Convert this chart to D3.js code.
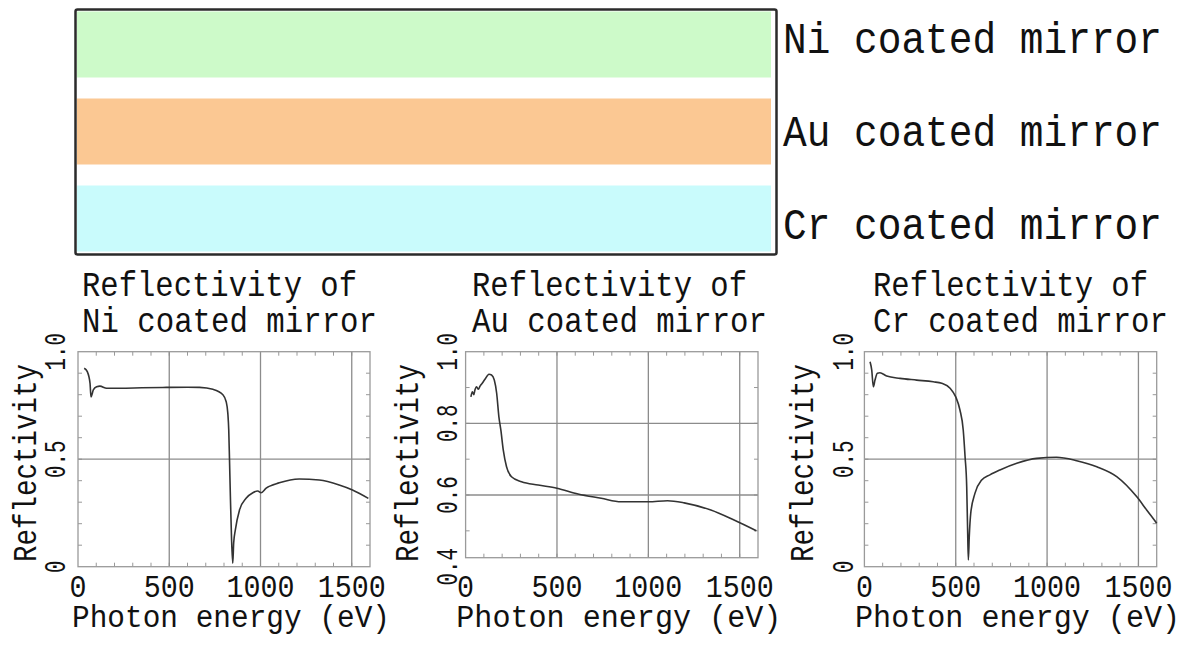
<!DOCTYPE html>
<html>
<head>
<meta charset="utf-8">
<script src="https://cdn.jsdelivr.net/npm/d3@7"></script>
<style>
  body { margin: 0; background: #fff; }
  text { font-family: "Liberation Mono", "DejaVu Sans Mono", monospace; fill: #111; }
</style>
</head>
<body>
<script>

// mirror coatings shown in the top diagram
var mirrors = ["Ni", "Au", "Cr"];
var bandColors = ["#cdfac9", "#fbc893", "#c9fbfc"];

// x axis (photon energy, eV)
var xTicks = [0, 500, 1000, 1500];
var xGrid = [500, 1000, 1500];

// Ni coated mirror
var energyNi = [34, 51, 66, 71, 84, 102, 120, 157, 229, 350, 484, 600, 666, 739, 794, 812, 821, 826, 830, 835, 841, 848, 853, 862, 885, 921, 958, 985, 1003, 1031, 1103, 1212, 1322, 1431, 1504, 1591];
var reflNi = [0.923, 0.907, 0.853, 0.79, 0.822, 0.837, 0.840, 0.83, 0.83, 0.832, 0.834, 0.835, 0.834, 0.825, 0.80, 0.767, 0.713, 0.636, 0.504, 0.326, 0.14, 0.016, 0.11, 0.17, 0.264, 0.318, 0.344, 0.352, 0.344, 0.365, 0.39, 0.408, 0.403, 0.38, 0.357, 0.318];
var yTicksNi = [0, 0.5, 1.0];
var yTickTextNi = ["0", "0.5", "1.0"];
var yGridNi = [0.5];

// Au coated mirror
var energyAu = [29, 37, 45, 51, 60, 70, 79, 91, 106, 128, 142, 157, 170, 182, 193, 206, 224, 251, 306, 397, 500, 615, 742, 851, 1000, 1105, 1196, 1342, 1469, 1591];
var reflAu = [0.874, 0.888, 0.880, 0.893, 0.902, 0.895, 0.904, 0.912, 0.923, 0.937, 0.935, 0.921, 0.884, 0.819, 0.781, 0.726, 0.679, 0.651, 0.637, 0.628, 0.619, 0.603, 0.591, 0.581, 0.581, 0.584, 0.578, 0.558, 0.530, 0.50];
var yTicksAu = [0.4, 0.6, 0.8, 1.0];
var yTickTextAu = ["0.4", "0.6", "0.8", "1.0"];
var yGridAu = [0.6, 0.8];

// Cr coated mirror
var energyCr = [31, 40, 49, 58, 71, 85, 122, 195, 286, 377, 423, 469, 500, 523, 541, 551, 560, 565, 569, 574, 582, 605, 642, 687, 742, 834, 943, 1052, 1162, 1272, 1381, 1490, 1545, 1600];
var reflCr = [0.953, 0.915, 0.837, 0.868, 0.9, 0.902, 0.887, 0.876, 0.868, 0.86, 0.853, 0.83, 0.79, 0.729, 0.636, 0.512, 0.372, 0.171, 0.031, 0.14, 0.248, 0.341, 0.403, 0.427, 0.45, 0.481, 0.504, 0.509, 0.493, 0.465, 0.419, 0.326, 0.264, 0.202];
var yTicksCr = [0, 0.5, 1.0];
var yTickTextCr = ["0", "0.5", "1.0"];
var yGridCr = [0.5];

var window_w = 1196;
var window_h = 646;

var svg = d3.select("body").append("svg")
    .attr("width", window_w)
    .attr("height", window_h);

// ---- top diagram: three coated stripes in a frame ----
var bandY = d3.scaleBand().domain(mirrors).range([11.5, 251.5]).paddingInner(0.2414).paddingOuter(0);
var labelY = d3.scalePoint().domain(mirrors).range([53, 239]);

svg.selectAll("rect.band")
    .data(mirrors)
    .enter().append("rect")
    .attr("class", "band")
    .attr("x", 77)
    .attr("width", 694)
    .attr("y", function (d) { return bandY(d); })
    .attr("height", bandY.bandwidth())
    .attr("fill", function (d, i) { return bandColors[i]; });

svg.append("rect")
    .attr("x", 75.5).attr("y", 9.5)
    .attr("width", 701).attr("height", 245)
    .attr("rx", 2)
    .attr("fill", "none")
    .attr("stroke", "#2b2b2b")
    .attr("stroke-width", 2.5);

svg.selectAll("text.mirror")
    .data(mirrors)
    .enter().append("text")
    .attr("class", "mirror")
    .attr("x", 783)
    .attr("y", function (d) { return labelY(d); })
    .attr("font-size", 45)
    .attr("textLength", 379)
    .attr("lengthAdjust", "spacingAndGlyphs")
    .text(function (d) { return d + " coated mirror"; });

// ---- reflectivity panels ----
var panels = [
    {name: "Ni", energy: energyNi, refl: reflNi, xRange: [78, 370], yRange: [566.7, 351.7], yDomain: [0, 1],
     yTicks: yTicksNi, yTickText: yTickTextNi, yGrid: yGridNi, titleX: 82, yLabelX: 36, yTickX: 65, xLabelW: 318},
    {name: "Au", energy: energyAu, refl: reflAu, xRange: [465.6, 758], yRange: [557.7, 351.7], yDomain: [0.425, 1],
     yTicks: yTicksAu, yTickText: yTickTextAu, yGrid: yGridAu, titleX: 472, yLabelX: 418, yTickX: 457, xLabelW: 325},
    {name: "Cr", energy: energyCr, refl: reflCr, xRange: [864.4, 1156.7], yRange: [566.7, 351.7], yDomain: [0, 1],
     yTicks: yTicksCr, yTickText: yTickTextCr, yGrid: yGridCr, titleX: 873, yLabelX: 813, yTickX: 853, xLabelW: 325}
];

panels.forEach(function (p) {
    var xScale = d3.scaleLinear().domain([0, 1600]).range(p.xRange);
    var yScale = d3.scaleLinear().domain(p.yDomain).range(p.yRange);

    var x0 = p.xRange[0], x1 = p.xRange[1];
    var yb = p.yRange[0], yt = p.yRange[1];

    var g = svg.append("g").attr("class", "panel " + p.name);

    // minor ticks, inward, on all four sides
    var minorX = xScale.ticks(16).filter(function (d) { return d > 0 && xScale(d) < x1 - 1; });
    var minorY = yScale.ticks(8).filter(function (d) { return yScale(d) < yb - 1 && yScale(d) > yt + 1; });

    g.selectAll("line.mx").data(minorX).enter().append("line")
        .attr("x1", function (d) { return xScale(d); })
        .attr("x2", function (d) { return xScale(d); })
        .attr("y1", yb).attr("y2", yb - 4)
        .attr("stroke", "#999").attr("stroke-width", 1);
    g.selectAll("line.mxt").data(minorX).enter().append("line")
        .attr("x1", function (d) { return xScale(d); })
        .attr("x2", function (d) { return xScale(d); })
        .attr("y1", yt).attr("y2", yt + 4)
        .attr("stroke", "#999").attr("stroke-width", 1);
    g.selectAll("line.my").data(minorY).enter().append("line")
        .attr("x1", x0).attr("x2", x0 + 4)
        .attr("y1", function (d) { return yScale(d); })
        .attr("y2", function (d) { return yScale(d); })
        .attr("stroke", "#999").attr("stroke-width", 1);
    g.selectAll("line.myr").data(minorY).enter().append("line")
        .attr("x1", x1).attr("x2", x1 - 4)
        .attr("y1", function (d) { return yScale(d); })
        .attr("y2", function (d) { return yScale(d); })
        .attr("stroke", "#999").attr("stroke-width", 1);

    // grid lines
    g.selectAll("line.gx").data(xGrid).enter().append("line")
        .attr("x1", function (d) { return xScale(d); })
        .attr("x2", function (d) { return xScale(d); })
        .attr("y1", yb).attr("y2", yt)
        .attr("stroke", "#8c8c8c").attr("stroke-width", 1.3);
    g.selectAll("line.gy").data(p.yGrid).enter().append("line")
        .attr("x1", x0).attr("x2", x1)
        .attr("y1", function (d) { return yScale(d); })
        .attr("y2", function (d) { return yScale(d); })
        .attr("stroke", "#8c8c8c").attr("stroke-width", 1.3);

    // frame
    g.append("rect")
        .attr("x", x0).attr("y", yt)
        .attr("width", x1 - x0).attr("height", yb - yt)
        .attr("fill", "none")
        .attr("stroke", "#9a9a9a")
        .attr("stroke-width", 1.3);

    // curve
    var pts = p.energy.map(function (e, i) { return [e, p.refl[i]]; });
    var line = d3.line()
        .x(function (d) { return xScale(d[0]); })
        .y(function (d) { return yScale(d[1]); })
        .curve(d3.curveMonotoneX);
    g.append("path")
        .attr("d", line(pts))
        .attr("fill", "none")
        .attr("stroke", "#333")
        .attr("stroke-width", 1.6);

    // x tick labels
    g.selectAll("text.xt").data(xTicks).enter().append("text")
        .attr("x", function (d) { return xScale(d); })
        .attr("y", 597)
        .attr("text-anchor", "middle")
        .attr("font-size", 31)
        .attr("textLength", function (d) { return String(d).length * 17; })
        .attr("lengthAdjust", "spacingAndGlyphs")
        .text(function (d) { return d; });

    // y tick labels, rotated
    g.selectAll("text.yt").data(p.yTicks).enter().append("text")
        .attr("transform", function (d) { return "translate(" + p.yTickX + "," + yScale(d) + ") rotate(-90)"; })
        .attr("text-anchor", "middle")
        .attr("font-size", 29)
        .attr("textLength", function (d, i) { return p.yTickText[i].length * 12.5; })
        .attr("lengthAdjust", "spacingAndGlyphs")
        .text(function (d, i) { return p.yTickText[i]; });

    // axis labels
    g.append("text")
        .attr("x", (x0 + x1) / 2 + 7)
        .attr("y", 627)
        .attr("text-anchor", "middle")
        .attr("font-size", 31)
        .attr("textLength", p.xLabelW)
        .attr("lengthAdjust", "spacingAndGlyphs")
        .text("Photon energy (eV)");

    g.append("text")
        .attr("transform", "translate(" + p.yLabelX + "," + 463 + ") rotate(-90)")
        .attr("text-anchor", "middle")
        .attr("font-size", 33)
        .attr("textLength", 198)
        .attr("lengthAdjust", "spacingAndGlyphs")
        .text("Reflectivity");

    // title
    g.append("text")
        .attr("x", p.titleX).attr("y", 296)
        .attr("font-size", 35)
        .attr("textLength", 275)
        .attr("lengthAdjust", "spacingAndGlyphs")
        .text("Reflectivity of");
    g.append("text")
        .attr("x", p.titleX).attr("y", 332)
        .attr("font-size", 35)
        .attr("textLength", 295)
        .attr("lengthAdjust", "spacingAndGlyphs")
        .text(p.name + " coated mirror");
});

</script>
</body>
</html>
